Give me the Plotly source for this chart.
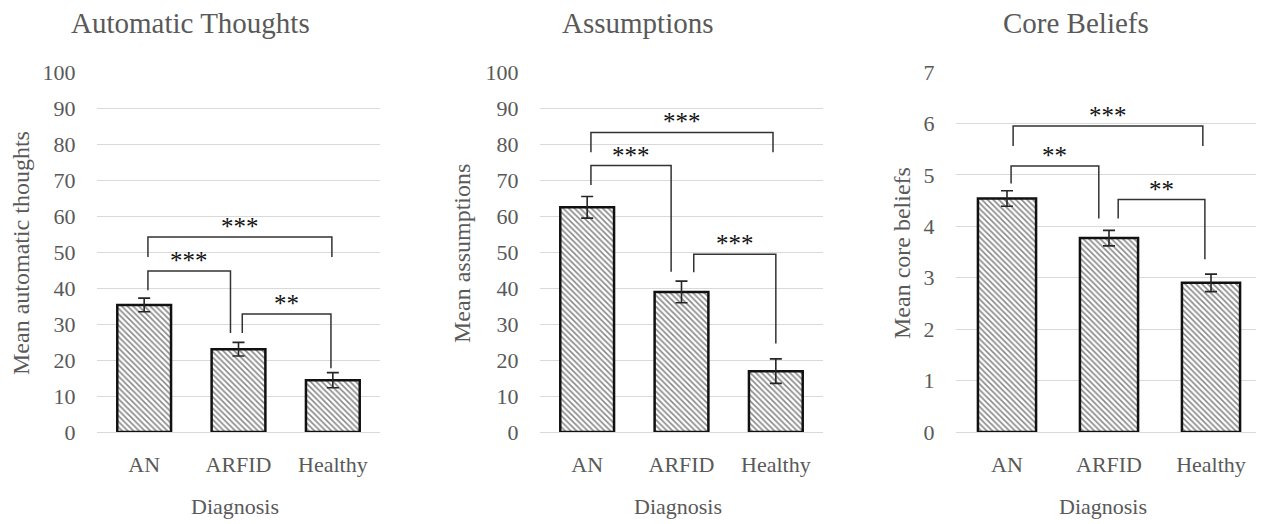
import plotly.graph_objects as go

# ---------------- data ----------------
categories = ["AN", "ARFID", "Healthy"]

at_means = [35.3, 23.0, 14.4]
at_err = [1.9, 1.9, 2.1]
as_means = [62.4, 38.9, 16.9]
as_err = [3.0, 3.0, 3.4]
cb_means = [4.54, 3.77, 2.90]
cb_err = [0.15, 0.15, 0.17]

panel_titles = ["Automatic Thoughts", "Assumptions", "Core Beliefs"]
y_titles = ["Mean automatic thoughts", "Mean assumptions", "Mean core beliefs"]
x_title = "Diagnosis"
y_max = [100, 100, 7]
y_step = [10, 10, 1]

# significance brackets: x of left/right legs (category units), top height, leg end heights, label
at_br_x = [[0.04, 1.99], [0.04, 0.915], [1.04, 1.98]]
at_br_top = [54.2, 44.7, 32.8]
at_br_ends = [[48.6, 48.6], [39.4, 27.5], [27.5, 17.7]]
at_br_lab = ["***", "***", "**"]

as_br_x = [[0.04, 1.97], [0.04, 0.89], [1.13, 2.0]]
as_br_top = [83.2, 74.0, 49.4]
as_br_ends = [[77.7, 77.7], [68.6, 44.5], [44.4, 24.6]]
as_br_lab = ["***", "***", "***"]

cb_br_x = [[0.06, 1.92], [0.04, 0.90], [1.09, 1.94]]
cb_br_top = [5.95, 5.17, 4.52]
cb_br_ends = [[5.56, 5.56], [4.83, 4.15], [4.15, 3.36]]
cb_br_lab = ["***", "**", "**"]

# ---------------- figure ----------------
OFF = 8  # page body margin
W, H = 1264 - OFF, 524 - OFF
FONT = "Liberation Serif"
GRAY = "#595959"


def px(x):
    return (x - OFF) / W


def py(y):
    return 1 - (y - OFF) / H


x_domains = [[px(97), px(380)], [px(540), px(823)], [px(956), px(1262)]]
y_domain = [py(432), py(72)]

means = [at_means, as_means, cb_means]
errs = [at_err, as_err, cb_err]
br_x = [at_br_x, as_br_x, cb_br_x]
br_top = [at_br_top, as_br_top, cb_br_top]
br_ends = [at_br_ends, as_br_ends, cb_br_ends]
br_lab = [at_br_lab, as_br_lab, cb_br_lab]

fig = go.Figure()
annotations = []
layout = {}

for i in range(3):
    xa = "x" if i == 0 else f"x{i+1}"
    ya = "y" if i == 0 else f"y{i+1}"
    xkey = "xaxis" if i == 0 else f"xaxis{i+1}"
    ykey = "yaxis" if i == 0 else f"yaxis{i+1}"

    fig.add_trace(go.Bar(
        x=[0, 1, 2], y=means[i], width=0.57,
        marker=dict(color="white",
                    line=dict(color="#111111", width=2.5),
                    pattern=dict(shape="\\", fgcolor="#111111", bgcolor="white",
                                 size=4, solidity=0.4)),
        error_y=dict(type="data", array=errs[i], color="#262626", thickness=1.6, width=6),
        xaxis=xa, yaxis=ya, showlegend=False, hoverinfo="skip",
    ))

    for (xl, xr), top, (el, er), lab in zip(br_x[i], br_top[i], br_ends[i], br_lab[i]):
        fig.add_trace(go.Scatter(
            x=[xl, xl, xr, xr], y=[el, top, top, er], mode="lines",
            line=dict(color="#333333", width=1.5),
            xaxis=xa, yaxis=ya, showlegend=False, hoverinfo="skip",
        ))
        annotations.append(dict(
            x=(xl + xr) / 2, y=top, xref=xa, yref=ya, text=lab, showarrow=False,
            yanchor="bottom", yshift=-5,
            font=dict(family=FONT, size=25, color="#111111"),
        ))

    layout[xkey] = dict(
        domain=x_domains[i], anchor=ya, range=[-0.5, 2.5], automargin=False,
        tickmode="array", tickvals=[0, 1, 2], ticktext=categories,
        ticks="outside", ticklen=13, tickcolor="rgba(0,0,0,0)",
        showgrid=False, zeroline=False, showline=False,
        tickfont=dict(family=FONT, size=22, color=GRAY),
    )
    layout[ykey] = dict(
        domain=y_domain, anchor=xa, range=[0, y_max[i]], dtick=y_step[i], automargin=False,
        ticks="outside", ticklen=16, tickcolor="rgba(0,0,0,0)",
        showgrid=True, gridcolor="#d9d9d9", gridwidth=1,
        zeroline=True, zerolinecolor="#d9d9d9", zerolinewidth=1, showline=False,
        tickfont=dict(family=FONT, size=22, color=GRAY),
    )

# titles and axis titles (page pixel positions)
title_x = [190, 637, 1076]
ytitle_x = [21, 462, 902]
xtitle_x = [235, 678, 1103]
for i in range(3):
    annotations.append(dict(
        x=px(title_x[i]), y=py(23), xref="paper", yref="paper",
        text=panel_titles[i], showarrow=False, xanchor="center", yanchor="middle",
        font=dict(family=FONT, size=29, color=GRAY),
    ))
    annotations.append(dict(
        x=px(ytitle_x[i]), y=py(253), xref="paper", yref="paper",
        text=y_titles[i], showarrow=False, textangle=-90,
        xanchor="center", yanchor="middle",
        font=dict(family=FONT, size=24, color=GRAY),
    ))
    annotations.append(dict(
        x=px(xtitle_x[i]), y=py(506), xref="paper", yref="paper",
        text=x_title, showarrow=False, xanchor="center", yanchor="middle",
        font=dict(family=FONT, size=22, color=GRAY),
    ))

fig.update_layout(
    width=W, height=H,
    margin=dict(l=0, r=0, t=0, b=0, autoexpand=False),
    paper_bgcolor="white", plot_bgcolor="white",
    annotations=annotations,
    **layout,
)

fig.write_html("out.html")
